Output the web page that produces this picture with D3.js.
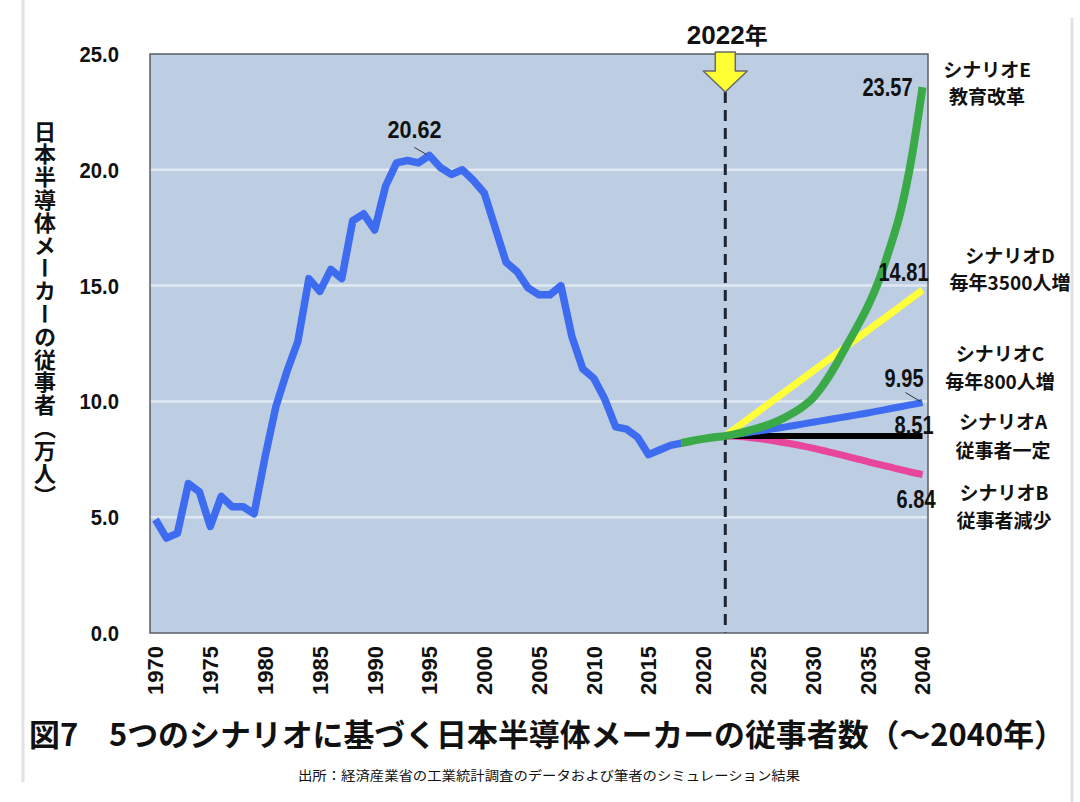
<!DOCTYPE html>
<html>
<head>
<meta charset="utf-8">
<script src="https://cdn.jsdelivr.net/npm/d3@7"></script>
<style>
  html, body { margin: 0; padding: 0; background: #fff; }
  svg { display: block; }
  .num { font-family: "Liberation Sans", Arial, sans-serif; font-weight: bold; fill: #111; }
  .jp { font-family: "Noto Sans CJK JP", "Noto Sans", sans-serif; font-weight: bold; fill: #111; }
</style>
</head>
<body>
<div id="chart"></div>
<script>
// historical employees (10,000 people), 1970..2018
const histStart = 1970
const histValues = [
  4.9, 4.1, 4.3, 6.45, 6.1, 4.6, 5.9, 5.45, 5.45, 5.15,
  7.6, 9.8, 11.3, 12.6, 15.3, 14.75, 15.7, 15.3, 17.8, 18.1,
  17.4, 19.3, 20.3, 20.4, 20.3, 20.62, 20.1, 19.8, 20.0, 19.55,
  19.0, 17.5, 16.0, 15.6, 14.9, 14.6, 14.6, 15.0, 12.8, 11.4,
  11.0, 10.1, 8.9, 8.8, 8.45, 7.7, 7.9, 8.1, 8.2
]
// shared stretch 2018..2022 (shown in green, under scenario E)
const bridgeStart = 2018
const bridgeValues = [8.2, 8.3, 8.38, 8.45, 8.51]

// scenarios 2022..2040
const scenStart = 2022
const scenA = [8.51, 8.51, 8.51, 8.51, 8.51, 8.51, 8.51, 8.51, 8.51, 8.51, 8.51, 8.51, 8.51, 8.51, 8.51, 8.51, 8.51, 8.51, 8.51]
const scenB = [8.51, 8.49, 8.45, 8.4, 8.33, 8.25, 8.17, 8.08, 7.98, 7.87, 7.76, 7.64, 7.52, 7.4, 7.28, 7.17, 7.05, 6.94, 6.84]
const scenC = [8.51, 8.58, 8.65, 8.72, 8.79, 8.86, 8.94, 9.02, 9.1, 9.18, 9.26, 9.34, 9.42, 9.5, 9.59, 9.68, 9.77, 9.86, 9.95]
const scenD = [8.51, 8.86, 9.21, 9.56, 9.91, 10.26, 10.61, 10.96, 11.31, 11.66, 12.01, 12.36, 12.71, 13.06, 13.41, 13.76, 14.11, 14.46, 14.81]
const scenE = [8.51, 8.6, 8.72, 8.85, 9.0, 9.2, 9.45, 9.75, 10.15, 10.75, 11.5, 12.35, 13.2, 14.1, 15.2, 16.6, 18.2, 20.5, 23.57]

const yTicks = [0, 5, 10, 15, 20, 25]
const xTickYears = [1970, 1975, 1980, 1985, 1990, 1995, 2000, 2005, 2010, 2015, 2020, 2025, 2030, 2035, 2040]
const markYear = 2022

const scenNames = ['シナリオE', 'シナリオD', 'シナリオC', 'シナリオA', 'シナリオB']
const scenNotes = ['教育改革', '毎年3500人増', '毎年800人増', '従事者一定', '従事者減少']

const W = 1080, H = 802
const P = { left: 150, right: 928, top: 54, bottom: 633 }

const svg = d3.select('#chart').append('svg')
  .attr('width', W).attr('height', H)

// page frame lines at the sides (screenshot edge)
svg.append('line').attr('x1', 23).attr('x2', 23).attr('y1', 0).attr('y2', 782)
  .attr('stroke', '#e2e2e2').attr('stroke-width', 3)
svg.append('line').attr('x1', 1072).attr('x2', 1072).attr('y1', 18).attr('y2', 802)
  .attr('stroke', '#e2e2e2').attr('stroke-width', 3)

const years = d3.range(1970, 2041)
const x = d3.scalePoint().domain(years).range([P.left, P.right]).padding(0.5)
const y = d3.scaleLinear().domain([0, 25]).range([P.bottom, P.top])

// squeeze a text to look like the condensed face of the original
const narrow = (sel, k) => sel.each(function () {
  this.setAttribute('textLength', this.getComputedTextLength() * k)
  this.setAttribute('lengthAdjust', 'spacingAndGlyphs')
})

// plot background
svg.append('rect')
  .attr('x', P.left).attr('y', P.top)
  .attr('width', P.right - P.left).attr('height', P.bottom - P.top)
  .attr('fill', '#bdcde2')

// gridlines
svg.append('g').selectAll('line')
  .data(yTicks.filter(d => d > 0 && d < 25))
  .join('line')
  .attr('x1', P.left).attr('x2', P.right)
  .attr('y1', d => y(d)).attr('y2', d => y(d))
  .attr('stroke', '#e0e8f2').attr('stroke-width', 2.5)

// y tick labels
svg.append('g').selectAll('text')
  .data(yTicks)
  .join('text')
  .attr('class', 'num')
  .attr('x', 119).attr('y', d => y(d))
  .attr('dy', '0.36em')
  .attr('text-anchor', 'end')
  .style('font-size', '22px')
  .text(d => d.toFixed(1))
  .call(narrow, 0.92)

// x tick labels, rotated
svg.append('g').selectAll('text')
  .data(xTickYears)
  .join('text')
  .attr('class', 'num')
  .attr('transform', d => `translate(${x(d)},${P.bottom + 13}) rotate(-90)`)
  .attr('dy', '0.36em')
  .attr('text-anchor', 'end')
  .style('font-size', '22px')
  .text(d => d)

// y axis title, vertical writing
svg.append('text')
  .attr('class', 'jp')
  .attr('x', 45).attr('y', 314)
  .attr('text-anchor', 'middle')
  .style('writing-mode', 'vertical-rl')
  .style('font-size', '22px')
  .style('letter-spacing', '0.8px')
  .text('日本半導体メーカーの従事者（万人）')

const line = d3.line()
  .x(d => x(d.year))
  .y(d => y(d.v))
const smooth = d3.line()
  .x(d => x(d.year))
  .y(d => y(d.v))
  .curve(d3.curveMonotoneX)

const toPts = (start, vals) => vals.map((v, i) => ({ year: start + i, v }))

// historical
svg.append('path')
  .datum(toPts(histStart, histValues))
  .attr('d', line)
  .attr('fill', 'none')
  .attr('stroke', '#3d6cf0')
  .attr('stroke-width', 7.5)
  .attr('stroke-linejoin', 'round')

// 2022 dashed marker
svg.append('line')
  .attr('x1', x(markYear)).attr('x2', x(markYear))
  .attr('y1', 92).attr('y2', P.bottom)
  .attr('stroke', '#1e2430').attr('stroke-width', 3)
  .attr('stroke-dasharray', '11,7')

// scenarios, draw order bottom to top
const scenarios = [
  { vals: scenB, color: '#e8459c', w: 7 },
  { vals: scenA, color: '#000000', w: 6 },
  { vals: scenC, color: '#3d6cf0', w: 7 },
  { vals: scenD, color: '#ffff3a', w: 7 },
  { vals: scenE, color: '#3aaa48', w: 8 },
]
scenarios.forEach(s => {
  svg.append('path')
    .datum(toPts(scenStart, s.vals))
    .attr('d', smooth)
    .attr('fill', 'none')
    .attr('stroke', s.color)
    .attr('stroke-width', s.w)
    .attr('stroke-linejoin', 'round')
})
// bridge in green on top
svg.append('path')
  .datum(toPts(bridgeStart, bridgeValues))
  .attr('d', smooth)
  .attr('fill', 'none')
  .attr('stroke', '#3aaa48')
  .attr('stroke-width', 8)

// plot frame
svg.append('rect')
  .attr('x', P.left).attr('y', P.top)
  .attr('width', P.right - P.left).attr('height', P.bottom - P.top)
  .attr('fill', 'none')
  .attr('stroke', '#5a5f66').attr('stroke-width', 1.5)

// yellow arrow
const ax = x(markYear)
svg.append('path')
  .attr('d', `M${ax - 10},52 L${ax + 10},52 L${ax + 10},71 L${ax + 22},71 L${ax},92 L${ax - 22},71 L${ax - 10},71 Z`)
  .attr('fill', '#ffff33')
  .attr('stroke', '#6a6a6a').attr('stroke-width', 1.5)
  .attr('stroke-linejoin', 'round')

svg.append('text')
  .attr('class', 'num')
  .attr('x', ax + 2).attr('y', 44)
  .attr('text-anchor', 'middle')
  .style('font-size', '26px')
  .text('2022')
  .append('tspan').attr('class', 'jp').style('font-size', '23px').text('年')

// peak label with leader
const peakVal = d3.max(histValues)
const peakYear = histStart + histValues.indexOf(peakVal)
svg.append('line')
  .attr('x1', x(peakYear) - 15).attr('y1', y(peakVal) - 8)
  .attr('x2', x(peakYear) - 3).attr('y2', y(peakVal) - 1)
  .attr('stroke', '#333').attr('stroke-width', 1)
svg.append('text')
  .attr('class', 'num')
  .attr('x', x(peakYear) - 15).attr('y', y(peakVal) - 17)
  .attr('text-anchor', 'middle')
  .style('font-size', '24px')
  .text(peakVal.toFixed(2))
  .call(narrow, 0.9)

// end values
const last = arr => arr[arr.length - 1]
const xEnd = x(2040)
const endLabels = [
  { v: last(scenE), dx: -10, dy: 9 },
  { v: last(scenD), dx: 6, dy: -9 },
  { v: last(scenC), dx: 1, dy: -16 },
  { v: last(scenA), dx: 11, dy: -2 },
  { v: last(scenB), dx: 13, dy: 33 },
]
svg.append('g').selectAll('text')
  .data(endLabels)
  .join('text')
  .attr('class', 'num')
  .attr('x', d => xEnd + d.dx)
  .attr('y', d => y(d.v) + d.dy)
  .attr('text-anchor', 'end')
  .style('font-size', '25px')
  .text(d => d.v.toFixed(2))
  .call(narrow, 0.8)
// leader for 9.95
svg.append('line')
  .attr('x1', xEnd - 17).attr('y1', y(last(scenC)) - 10)
  .attr('x2', xEnd - 2).attr('y2', y(last(scenC)) - 1)
  .attr('stroke', '#333').attr('stroke-width', 1)

// scenario names on the right
const nameRows = [
  { cx: 987, y1: 70, y2: 97 },
  { cx: 1010, y1: 256, y2: 283 },
  { cx: 1000, y1: 354, y2: 382 },
  { cx: 1003, y1: 422, y2: 451 },
  { cx: 1004, y1: 493, y2: 521 },
]
nameRows.forEach((r, i) => {
  svg.append('text').attr('class', 'jp')
    .attr('x', r.cx).attr('y', r.y1).attr('dy', '0.36em')
    .attr('text-anchor', 'middle')
    .style('font-size', '19px')
    .text(scenNames[i])
  svg.append('text').attr('class', 'jp')
    .attr('x', r.cx).attr('y', r.y2).attr('dy', '0.36em')
    .attr('text-anchor', 'middle')
    .style('font-size', '19px')
    .text(scenNotes[i])
})

// title and source
svg.append('text').attr('class', 'jp')
  .attr('x', 29).attr('y', 746)
  .attr('textLength', 1036).attr('lengthAdjust', 'spacingAndGlyphs')
  .style('font-size', '31px')
  .text('図7　5つのシナリオに基づく日本半導体メーカーの従事者数（～2040年）')

svg.append('text').attr('class', 'jp')
  .attr('x', 298).attr('y', 780)
  .attr('textLength', 502).attr('lengthAdjust', 'spacingAndGlyphs')
  .style('font-size', '13px')
  .style('font-weight', 'normal')
  .text('出所：経済産業省の工業統計調査のデータおよび筆者のシミュレーション結果')
</script>
</body>
</html>
